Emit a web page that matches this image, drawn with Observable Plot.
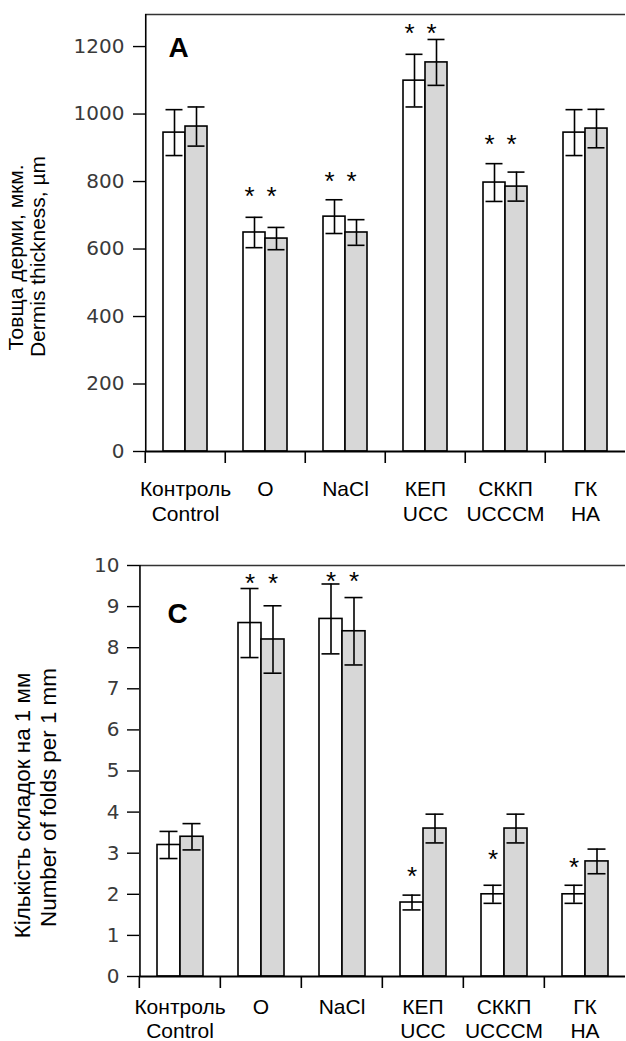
<!DOCTYPE html>
<html>
<head>
<meta charset="utf-8">
<script src="https://cdn.jsdelivr.net/npm/d3@7"></script>
<script src="https://cdn.jsdelivr.net/npm/@observablehq/plot@0.6"></script>
<style>
  html, body { margin: 0; padding: 0; background: #fff; }
  #chart > svg, #chart > figure { display: block; margin: 0; }
</style>
</head>
<body>
<div id="chart"></div>
<script>
// ---- data ----
const groups = ["Контроль", "О", "NaCl", "КЕП", "СККП", "ГК"];
const groupsEn = ["Control", "", "", "UCC", "UCCCM", "HA"];
const seriesKeys = ["s1", "s2"];

// Panel A: dermis thickness, µm
const thickWhite = [945, 649, 696, 1099, 797, 945];
const thickWhiteErr = [68, 45, 50, 78, 56, 68];
const thickGrey = [963, 631, 649, 1153, 785, 957];
const thickGreyErr = [58, 33, 38, 68, 43, 57];
const thickTicks = [0, 200, 400, 600, 800, 1000, 1200];
const thickMax = 1295;
const starsA = [
  {group: "О", series: "s1", y: 773}, {group: "О", series: "s2", y: 773},
  {group: "NaCl", series: "s1", y: 818}, {group: "NaCl", series: "s2", y: 818},
  {group: "КЕП", series: "s1", y: 1256}, {group: "КЕП", series: "s2", y: 1256},
  {group: "СККП", series: "s1", y: 927}, {group: "СККП", series: "s2", y: 927}
];

// Panel C: number of folds per 1 mm
const foldsWhite = [3.2, 8.6, 8.7, 1.8, 2.0, 2.0];
const foldsWhiteErr = [0.33, 0.84, 0.85, 0.18, 0.22, 0.22];
const foldsGrey = [3.4, 8.2, 8.4, 3.6, 3.6, 2.8];
const foldsGreyErr = [0.32, 0.82, 0.82, 0.35, 0.35, 0.30];
const foldsTicks = [0, 1, 2, 3, 4, 5, 6, 7, 8, 9, 10];
const foldsMax = 10;
const starsC = [
  {group: "О", series: "s1", y: 9.71}, {group: "О", series: "s2", y: 9.71},
  {group: "NaCl", series: "s1", y: 9.76}, {group: "NaCl", series: "s2", y: 9.76},
  {group: "КЕП", series: "s1", y: 2.58},
  {group: "СККП", series: "s1", y: 3.0},
  {group: "ГК", series: "s1", y: 2.8}
];

const W = 626;
const LABEL_FONT = "'Liberation Sans', Arial, sans-serif";
const TICK_FONT = "'DejaVu Sans', Verdana, sans-serif";

function panel(cfg) {
  const rows = [];
  groups.forEach((g, i) => {
    rows.push({group: g, series: "s1", mean: cfg.m1[i], err: cfg.e1[i]});
    rows.push({group: g, series: "s2", mean: cfg.m2[i], err: cfg.e2[i]});
  });
  const bw = (W - cfg.ml) / groups.length;
  const step = bw / 3.5;
  const first = [groups[0]];
  return Plot.plot({
    width: W,
    height: cfg.height,
    marginLeft: cfg.ml,
    marginRight: 0,
    marginTop: cfg.mt,
    marginBottom: cfg.mb,
    style: {fontFamily: LABEL_FONT, background: "#fff", color: "#000", overflow: "visible"},
    fx: {domain: groups, padding: 0, axis: null, label: null},
    x: {domain: seriesKeys, paddingInner: 0, paddingOuter: 0.75, axis: null, label: null},
    y: {domain: [0, cfg.ymax], axis: null, label: null},
    color: {domain: seriesKeys, range: ["#ffffff", "#d7d7d7"]},
    marks: [
      Plot.barY(rows, {fx: "group", x: "series", y: "mean", fill: "series", stroke: "#000", strokeWidth: 1.6}),
      Plot.ruleX(rows, {fx: "group", x: "series", y1: d => d.mean - d.err, y2: d => d.mean + d.err, stroke: "#000", strokeWidth: 1.6}),
      Plot.tickY(rows, {fx: "group", x: "series", y: d => d.mean + d.err, insetLeft: 2.5, insetRight: 2.5, stroke: "#000", strokeWidth: 1.6}),
      Plot.tickY(rows, {fx: "group", x: "series", y: d => d.mean - d.err, insetLeft: 2.5, insetRight: 2.5, stroke: "#000", strokeWidth: 1.6}),
      // frame lines
      Plot.ruleY([0], {stroke: "#000", strokeWidth: 2.2}),
      Plot.ruleY([cfg.ymax], {stroke: "#333", strokeWidth: 1.6}),
      Plot.ruleX([{group: groups[0], series: "s1"}], {fx: "group", x: "series", y1: 0, y2: cfg.ymax, dx: -1.25 * step, stroke: "#000", strokeWidth: 1.6}),
      // y axis
      Plot.axisY({ticks: cfg.ticks, tickSize: 12, text: null, stroke: "#000", strokeWidth: 1.4, label: null}),
      Plot.axisY({ticks: cfg.ticks, tickFormat: d => String(d), tickSize: 0, tickPadding: cfg.tickPad,
        fill: "#3a3a3a", fontSize: 20, fontFamily: TICK_FONT, label: null}),
      // fx boundary ticks
      Plot.axisFx({anchor: "bottom", text: null, tickSize: 12, dx: -bw / 2, stroke: "#000", strokeWidth: 1.6, label: null}),
      // category labels
      Plot.text(groups, {fx: d => d, text: (d, i) => groupsEn[i] ? d + "\n" + groupsEn[i] : d,
        frameAnchor: "bottom", textAnchor: "middle", lineAnchor: "top", dy: cfg.labelDy, lineHeight: cfg.labelLH, fontSize: 21, fill: "#000"}),
      // stars
      Plot.text(cfg.stars, {fx: "group", x: "series", y: "y", text: () => "*", fontSize: 26, dx: cfg.starDx, dy: 6, fill: "#000"}),
      // panel letter
      Plot.text(first, {fx: d => d, text: () => cfg.letter, frameAnchor: "top-left", textAnchor: "start", lineAnchor: "top",
        dx: cfg.letterDx, dy: cfg.letterDy, fontSize: 28, fontWeight: "bold", fill: "#000"}),
      // y titles
      Plot.text(first, {fx: d => d, text: () => cfg.title1, frameAnchor: "left", textAnchor: "middle", lineAnchor: "middle",
        rotate: -90, dx: cfg.t1x - cfg.ml, dy: cfg.t1dy, fontSize: cfg.titleSize, fill: "#000"}),
      Plot.text(first, {fx: d => d, text: () => cfg.title2, frameAnchor: "left", textAnchor: "middle", lineAnchor: "middle",
        rotate: -90, dx: cfg.t2x - cfg.ml, dy: cfg.t2dy, fontSize: cfg.titleSize, fill: "#000"})
    ]
  });
}

const chart = document.getElementById("chart");
chart.append(panel({
  m1: thickWhite, e1: thickWhiteErr, m2: thickGrey, e2: thickGreyErr,
  ticks: thickTicks, ymax: thickMax, stars: starsA, starDx: -5, tickPad: 21,
  height: 520, ml: 143, mt: 14, mb: 69, labelDy: 26.1, labelLH: 1.2,
  letter: "A", letterDx: 23, letterDy: 23,
  titleSize: 21, t1x: 13.3, t2x: 35.3, t1dy: 24.5, t2dy: 23.5,
  title1: "Товща дерми, мкм.", title2: "Dermis thickness, µm"
}));
chart.append(panel({
  m1: foldsWhite, e1: foldsWhiteErr, m2: foldsGrey, e2: foldsGreyErr,
  ticks: foldsTicks, ymax: foldsMax, stars: starsC, starDx: 0, tickPad: 20,
  height: 521, ml: 138, mt: 45, mb: 65, labelDy: 20.1, labelLH: 1.14,
  letter: "C", letterDx: 28, letterDy: 38,
  titleSize: 22.4, t1x: 21, t2x: 47, t1dy: 34.5, t2dy: 26.5,
  title1: "Кількість складок на 1 мм", title2: "Number of folds per 1 mm"
}));
</script>
</body>
</html>
